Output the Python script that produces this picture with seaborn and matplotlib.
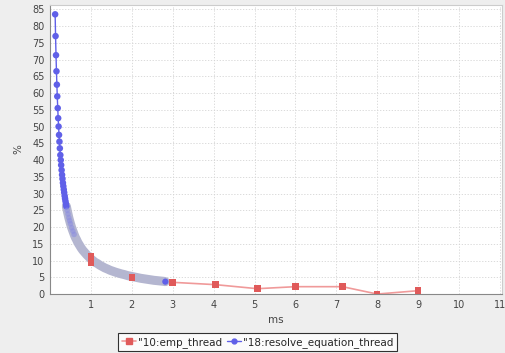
import pandas as pd
import numpy as np
import matplotlib
matplotlib.use('Agg')
import matplotlib.pyplot as plt
import seaborn as sns
from matplotlib.lines import Line2D

# Veriler
emp_ms = [1.0, 1.0, 2.0, 3.0, 4.05, 5.07, 6.0, 7.15, 8.0, 9.0]
emp_pct = [11.3, 9.4, 4.9, 3.5, 2.8, 1.6, 2.2, 2.2, 0.0, 1.0]

res_ms = [0.126, 0.136, 0.147, 0.158, 0.168, 0.178, 0.189, 0.2, 0.21, 0.221,
          0.231, 0.241, 0.253, 0.263, 0.273, 0.284, 0.295, 0.305, 0.316, 0.326,
          0.337, 0.347, 0.358, 0.368, 0.379, 0.39, 0.4, 0.42, 0.44, 0.46,
          0.48, 0.5, 0.53, 0.56, 0.59, 0.62, 0.65, 0.68, 0.72, 0.76,
          0.8, 0.85, 0.9, 0.95, 1.0, 1.05, 1.1, 1.16, 1.22, 1.28,
          1.34, 1.4, 1.47, 1.54, 1.61, 1.68, 1.75, 1.82, 1.9, 1.98,
          2.06, 2.14, 2.22, 2.3, 2.38, 2.46, 2.54, 2.62, 2.7, 2.78, 2.82]
res_pct = [83.5, 77.0, 71.3, 66.5, 62.5, 59.0, 55.5, 52.5, 50.0, 47.5,
           45.5, 43.5, 41.5, 40.0, 38.5, 37.0, 35.6, 34.4, 33.2, 32.2,
           31.2, 30.3, 29.3, 28.5, 27.7, 26.9, 26.2, 25.0, 23.9, 22.8,
           21.9, 21.0, 19.8, 18.8, 17.8, 16.9, 16.2, 15.4, 14.6, 13.8,
           13.1, 12.4, 11.7, 11.1, 10.5, 10.0, 9.5, 9.1, 8.6, 8.2,
           7.8, 7.5, 7.1, 6.8, 6.5, 6.25, 6.0, 5.8, 5.5, 5.3,
           5.1, 4.9, 4.7, 4.55, 4.4, 4.25, 4.1, 4.0, 3.9, 3.8, 3.7]

emp_label = '"10:emp_thread'
res_label = '"18:resolve_equation_thread'

df_emp = pd.DataFrame({'ms': emp_ms, 'pct': emp_pct})
df_res = pd.DataFrame({'ms': res_ms, 'pct': res_pct})

sns.set_style('whitegrid')
plt.rcParams['font.family'] = ['DejaVu Sans']

fig = plt.figure(figsize=(5.05, 3.53), dpi=100, facecolor='#eeeeee')
ax = fig.add_axes([0.099, 0.167, 0.895, 0.819])
ax.set_facecolor('white')

red_line = '#f09a9a'
red_mark = '#e05a5a'
blue = '#6060e8'

# kirmizi seri (arkada)
sns.lineplot(data=df_emp, x='ms', y='pct', ax=ax, sort=False, estimator=None,
             color=red_line, linewidth=1.2, zorder=2)

# mavi seri: ince cizgi + noktalar, yogun bolgede gri bant
sns.lineplot(data=df_res, x='ms', y='pct', ax=ax, sort=False, estimator=None,
             color=blue, linewidth=1.0, zorder=3)
dense = df_res[df_res['ms'] >= 0.4]
sns.lineplot(data=dense, x='ms', y='pct', ax=ax, sort=False, estimator=None,
             color='#b4b6d0', linewidth=6.5, solid_capstyle='round', zorder=3)
sparse = df_res[df_res['ms'] < 0.42]
ax.scatter(sparse['ms'], sparse['pct'], s=22, color=blue, edgecolor='none', zorder=4)
mid = df_res[(df_res['ms'] >= 0.42) & (df_res['ms'] < 0.6)]
ax.scatter(mid['ms'], mid['pct'], s=16, color='#8c8ee0', edgecolor='none', alpha=0.6, zorder=4)
ax.scatter(df_res['ms'].iloc[-1:], df_res['pct'].iloc[-1:], s=20, color=blue, edgecolor='none', zorder=4)

# kirmizi noktalar ustte
ax.scatter(df_emp['ms'], df_emp['pct'], s=22, marker='s', color=red_mark, edgecolor='none', zorder=5)

ax.set_xlim(0, 11.05)
ax.set_ylim(0, 86.3)
ax.set_xticks(range(1, 12))
ax.set_yticks(range(0, 90, 5))
ax.tick_params(axis='both', labelsize=7, colors='#444444', length=2, pad=2)
ax.grid(True, color='#d4d4d4', linestyle=(0, (1.5, 2)), linewidth=0.6)

for side in ['top', 'right']:
    ax.spines[side].set_color('#cccccc')
    ax.spines[side].set_linewidth(0.8)
for side in ['left', 'bottom']:
    ax.spines[side].set_color('#888888')
    ax.spines[side].set_linewidth(0.8)

ax.set_xlabel('ms', fontsize=7.5, color='#444444', labelpad=4)
ax.set_ylabel('%', fontsize=7.5, color='#444444', labelpad=6)

handles = [
    Line2D([], [], color=red_line, marker='s', markersize=4, markerfacecolor=red_mark,
           markeredgecolor=red_mark, linewidth=1.2),
    Line2D([], [], color=blue, marker='o', markersize=3.5, linewidth=1.0),
]
leg = fig.legend(handles, [emp_label, res_label], loc='center', bbox_to_anchor=(0.51, 0.031),
                 ncol=2, fontsize=7.5, frameon=True, fancybox=False, handlelength=1.4,
                 handletextpad=0.2, columnspacing=0.4, borderpad=0.3, borderaxespad=0)
leg.get_frame().set_edgecolor('black')
leg.get_frame().set_linewidth(0.8)
leg.get_frame().set_facecolor('white')

fig.savefig('out.png', dpi=100, facecolor=fig.get_facecolor())
